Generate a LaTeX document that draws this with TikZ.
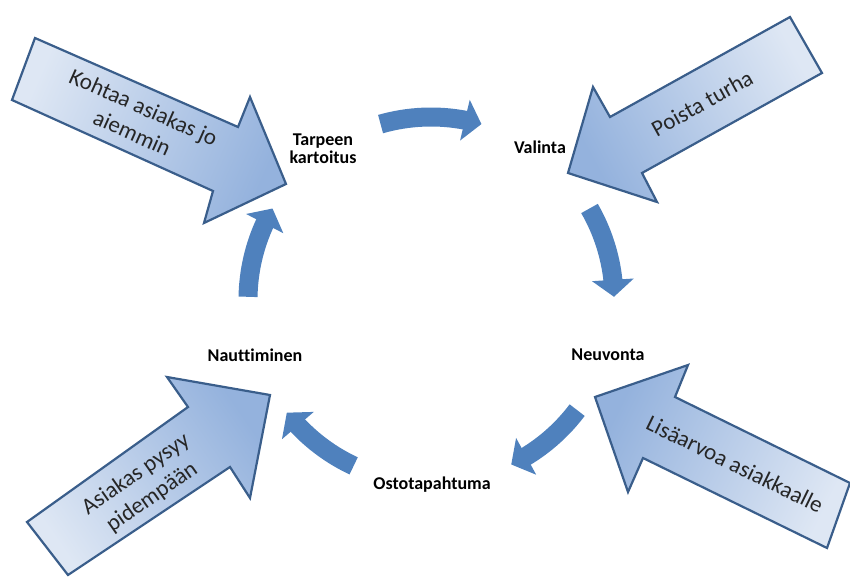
\documentclass[tikz,border=0pt]{standalone}
\usepackage{fontspec}
\setmainfont{Carlito}[Ligatures=CommonOff]
\usetikzlibrary{arrows.meta,bending}
\definecolor{cyc}{HTML}{4F81BD}
\definecolor{blight}{HTML}{DEE7F4}
\definecolor{bdark}{HTML}{94B2DD}
\definecolor{bborder}{HTML}{3A5E8B}
\definecolor{btext}{HTML}{262626}
\begin{document}
\begin{tikzpicture}[x=1pt,y=-1pt,
  lbl/.style={font=\bfseries\fontsize{18}{18}\selectfont, align=center, inner sep=0pt, text=black},
  blk/.style={draw=bborder, line width=2.2pt, line join=miter, shading=axis, top color=bdark, bottom color=blight},
  btxt/.style={font=\fontsize{23}{28}\selectfont, align=center, text=btext, inner sep=0pt},
  cyca/.style={draw=cyc, line width=19pt, -{Triangle[length=17pt,width=41pt,flex]}}
]
\useasboundingbox (0,0) rectangle (850,577);

% big block arrows
\path[blk, shading angle=-113.7] (35,38) -- (238,127) -- (250,97) -- (286,184) -- (204,223) -- (213,191) -- (12,100) -- cycle;
\path[blk, shading angle=118.3] (790,17) -- (610,117) -- (593,87) -- (568,173) -- (657,202) -- (642,173) -- (822,73) -- cycle;
\path[blk, shading angle=-55.4] (27,522) -- (188,407) -- (167,377) -- (270,395) -- (250,498) -- (230,467) -- (68,575) -- cycle;
\path[blk, shading angle=64] (595,397) -- (688,365) -- (675,397) -- (850,483) -- (827,548) -- (643,458) -- (628,492) -- cycle;

\node[btxt, rotate=-24] (t1) at (138,120) {Kohtaa asiakas jo\\aiemmin};
\node[btxt, rotate=29] (t2) at (702,103) {Poista turha};
\node[btxt, rotate=35] (t3) at (144,486) {Asiakas pysyy\\pidempään};
\node[btxt, rotate=-26] (t4) at (735,464) {Lisäarvoa asiakkaalle};

% cycle labels
\node[lbl] (n1) at (323,149) {Tarpeen\\kartoitus};
\node[lbl] (n2) at (540,147) {Valinta};
\node[lbl] (n3) at (608,355) {Neuvonta};
\node[lbl] (n4) at (432,485) {Ostotapahtuma};
\node[lbl] (n5) at (255,355) {Nauttiminen};

% cycle arrows
\coordinate (ctr) at (431,300);
\coordinate (aS) at ([shift={(106:183pt)}]ctr);
\coordinate (bS) at ([shift={(30:183pt)}]ctr);
\coordinate (cS) at ([shift={(-37:183pt)}]ctr);
\coordinate (dS) at ([shift={(-115:183pt)}]ctr);
\coordinate (eS) at ([shift={(179:183pt)}]ctr);
\draw[cyca] (aS) arc[start angle=106, end angle=74, radius=183pt];
\draw[cyca] (bS) arc[start angle=30, end angle=1, radius=183pt];
\draw[cyca] (cS) arc[start angle=-37, end angle=-64, radius=183pt];
\draw[cyca] (dS) arc[start angle=-115, end angle=-142, radius=183pt];
\draw[cyca] (eS) arc[start angle=179, end angle=150, radius=183pt];
\end{tikzpicture}
\end{document}
